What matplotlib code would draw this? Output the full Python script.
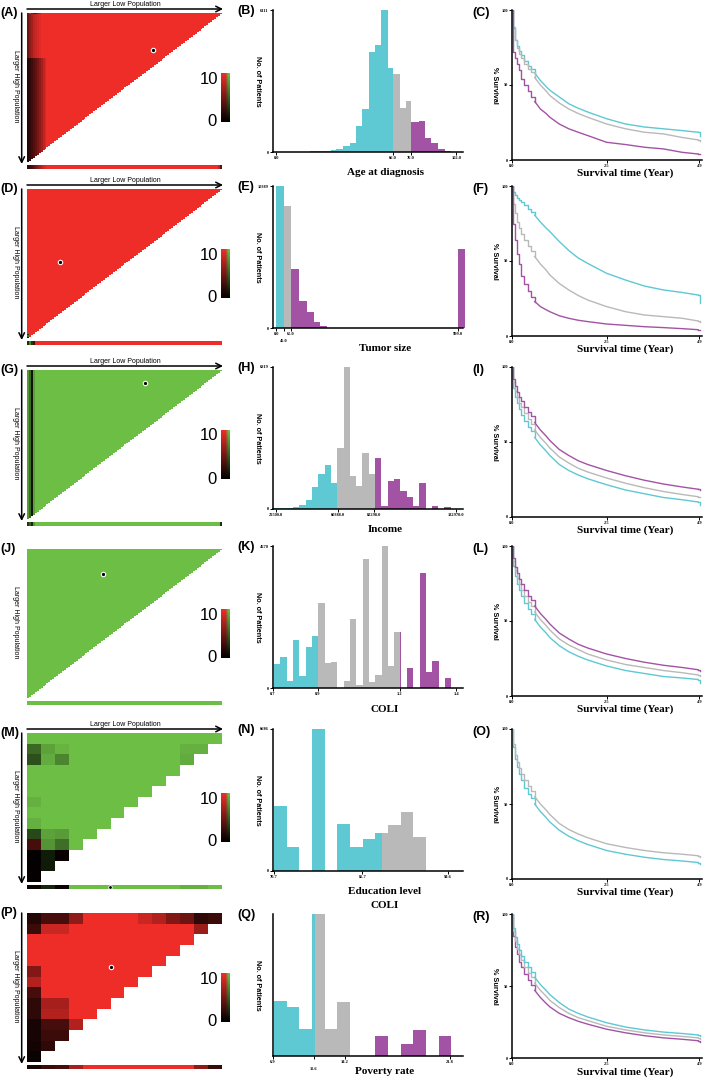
import numpy as np
import matplotlib
matplotlib.use("Agg")
import matplotlib.pyplot as plt
from matplotlib.colors import to_rgb

W, H = 709, 1079
fig = plt.figure(figsize=(W / 100, H / 100), dpi=100)

CYAN = '#5EC8D3'
GRAY = '#B9B9B9'
PURPLE = '#A353A3'
RED = '#EE2D29'
GREEN = '#6DBE45'

SANS = 'Liberation Sans'
SERIF = 'Liberation Serif'

# ---------------------------------------------------------------- data
# Histograms (bin edges, counts, cut points)
age_edges = [15, 19, 23, 27, 31, 34, 38, 41.5, 45, 48.7, 52.2, 56, 59.4, 63, 66,
             70, 73.5, 76, 80.5, 84, 87.7, 91.5, 95.3, 99]
age_counts = [20, 30, 40, 60, 90, 115, 260, 390, 1100, 1870, 4290, 4600, 6111,
              3620, 3350, 1900, 2200, 1290, 1350, 620, 390, 145, 45]
age_cuts = [66, 76]
age_ticks = [0, 66, 76, 102]
age_ticklabels = ['0.0', '66.0', '76.0', '102.0']

tumor_edges = [0, 40, 79, 123, 169, 205, 242, 279, 1001, 1039]
tumor_counts = [10389, 8936, 4286, 1962, 1187, 412, 145, 0, 5788]
tumor_cuts = [40, 79]
tumor_ticks = [0, 40, 79, 999]
tumor_ticklabels = ['0.0', '45.0', '65.0', '999.0']

income_edges = np.linspace(21200, 133430, 30)
income_counts = [32, 32, 40, 112, 208, 433, 1075, 1684, 2133, 1235, 2919, 6819,
                 1604, 1123, 2679, 1684, 2438, 160, 1363, 1444, 850, 561, 160,
                 1235, 0, 160, 0, 80, 0]
income_cuts = [59900, 83120]
income_ticks = [22500, 60388, 82298, 132970]
income_ticklabels = ['22500.0', '60388.0', '82298.0', '132970.0']

coli_edges = np.linspace(0.7038, 0.7038 + 28 * 0.02418, 29)
coli_counts = [788, 1017, 241, 1586, 383, 1346, 1696, 2790, 820, 842, 0, 230,
               2265, 109, 4234, 186, 438, 4670, 711, 1838, 0, 656, 0, 3774,
               514, 886, 0, 328]
coli_cuts = [0.8718, 1.184]
coli_ticks = [0.7, 0.8718, 1.184, 1.4]
coli_ticklabels = ['0.7', '0.9', '1.2', '1.4']

edu_edges = np.linspace(70.7, 70.7 + 12 * 2.295, 13)
edu_counts = [3067, 1148, 0, 6686, 0, 2218, 1148, 1510, 1777, 2155, 2768, 1620]
edu_cuts = [90.3, 200]
edu_ticks = [70.7, 86.7, 102.2]
edu_ticklabels = ['70.7', '86.7', '94.6']

pov_edges = np.linspace(6.98, 6.98 + 14 * 1.068, 15)
pov_counts = [2335, 2074, 1160, 5990, 1131, 2277, 0, 0, 841, 0, 508, 1117, 0, 827]
pov_cuts = [10.42, 15.33]
pov_ticks = [6.9, 10.33, 12.94, 21.8]
pov_ticklabels = ['6.9', '11.6', '14.2', '21.8']

# Survival curves (% survival at the listed years)
surv_t = [0, 0.03, 0.07, 0.12, 0.18, 0.25, 0.33, 0.42, 0.5, 0.6, 0.75, 0.9, 1.0,
          1.25, 1.5, 1.75, 2.0, 2.5, 3.0, 3.5, 4.0, 4.5, 4.92, 4.98]
c_cyan = [100, 88, 80, 76, 73, 70, 66, 63, 61, 58, 53, 49, 46.5, 42, 37.5, 34.5,
          32, 27.5, 24, 22, 20.8, 19.6, 18.5, 16]
c_gray = [100, 89, 80, 75, 71, 68, 64, 61, 59, 55, 50, 46, 43, 38, 34, 31, 28.5,
          24, 20.8, 18.5, 17.4, 15, 13.4, 13]
c_purple = [100, 72, 68, 64, 60, 54, 50, 46, 42, 39, 34, 31, 28.5, 24, 20.8, 18.5,
            16.3, 11.8, 10.3, 8.5, 7.4, 5.1, 4, 4]
f_cyan = [100, 96, 94, 92, 91, 89.6, 87.5, 85, 83, 80.5, 76, 72, 69.6, 63, 57, 52,
          48.4, 41.8, 37.3, 33.3, 30.7, 29, 27.3, 22]
f_gray = [100, 88, 82, 76, 72, 68, 64, 60, 57, 53, 48, 44, 40.7, 35, 30.7, 27, 24,
          19.6, 16.2, 14, 12.9, 11.8, 10, 9.6]
f_purple = [100, 75, 64, 55, 48, 40, 35, 30, 26, 23, 19.6, 17.5, 16.2, 13.5, 11.8,
            10.5, 9.6, 8, 7.1, 6.2, 5.6, 4.9, 4.2, 4.2]
i_purple = [100, 92, 87, 83, 80, 77, 73, 70, 67, 63, 58, 54, 51, 45, 41, 37.5, 35,
            31, 27.5, 24.5, 22, 20, 18.5, 18]
i_gray = [100, 90, 84, 80, 76, 73, 69, 65, 62, 58, 53, 49, 46, 40, 36, 32.5, 30,
          26, 22.5, 19.5, 17, 15, 13.5, 13]
i_cyan = [100, 86, 80, 76, 72, 68, 64, 60, 57, 53, 48, 44, 41, 35, 31, 28, 25.5,
          21.5, 18, 15.5, 13, 11.5, 10, 8]
l_purple = [100, 92, 86, 82, 78, 75, 71, 67, 64, 60, 55, 51, 48, 42, 38, 34.5, 32,
            28, 25, 22.5, 20.5, 19, 17.5, 17]
l_gray = [100, 90, 84, 79, 75, 71, 67, 63, 60, 56, 51, 47, 44, 38, 34, 31, 28,
          24, 21, 19, 17, 15.5, 14, 13.5]
l_cyan = [100, 87, 80, 75, 71, 67, 62, 58, 55, 51, 46, 42, 39, 33.5, 29.5, 26.5, 24,
          20, 17, 15, 13, 12, 11, 9]
o_gray = [100, 90, 83, 78, 74, 70, 66, 62, 59, 55, 50, 46, 43, 37, 33, 30, 27.5,
          23.5, 21, 19, 17.5, 16.5, 15.5, 15]
o_cyan = [100, 88, 80, 75, 70, 66, 61, 57, 54, 50, 45, 41, 38, 32.5, 28.5, 25.5, 23,
          19, 16.5, 14.5, 13, 12, 11, 10]
r_cyan = [100, 90, 84, 79, 75, 71, 67, 63, 60, 56, 51, 47, 44, 38.5, 34, 31, 28.5,
          24.5, 21.5, 19.5, 18, 17, 16, 15]
r_gray = [100, 88, 81, 76, 72, 68, 63, 59, 56, 52, 47, 43, 40, 35, 31, 28, 26,
          22, 19.5, 17.5, 16, 15, 14, 13.5]
r_purple = [100, 85, 77, 72, 67, 63, 58, 54, 51, 47, 42, 38, 35.5, 31, 28, 25.5,
            23.5, 20, 17.5, 15.5, 14, 13, 12, 11]
STEP_UNTIL = 0.6   # early part drawn as a staircase, later part as a line

# Heat maps: intensity 0..1 (0 = black, 1 = full colour); sign picks the colour:
# positive -> red scale, negative -> green scale
N_FINE = 100
a_left_profile_low = [0.15, 0.2, 0.28, 0.35, 0.42, 0.5, 0.6, 0.7, 0.8, 0.9]
a_left_profile_high = [0.45, 0.6, 0.7, 0.8, 0.85, 0.9, 0.95, 1, 1, 1]
a_top_row = [0.9, 0.6, 0.35, 0.4, 0.6, 0.8]
a_strip_left = [0.2, 0.25, 0.3, 0.4, 0.5, 0.6, 0.7, 0.8, 0.9, 0.95]
a_strip_right = [0.8, 0.4]

d_left_green = [-0.3, -0.6, -0.2]
d_strip_left = [-0.25, -0.7, -0.3, 0.3]

g_left_cols = [-0.8, -0.55, -0.12, -0.85]
g_strip_left = [-0.3, -0.5, -0.2, -0.8]
g_strip_right = [-0.25]

m_values = [
    [-1, -1, -1, -1, -1, -1, -1, -1, -1, -1, -1, -1, -1, -1],
    [-0.55, -0.85, -0.95, -1, -1, -1, -1, -1, -1, -1, -1, -0.93, -0.93],
    [-0.42, -0.9, -0.7, -1, -1, -1, -1, -1, -1, -1, -1, -0.9],
    [-1, -1, -1, -1, -1, -1, -1, -1, -1, -1, -1],
    [-1, -1, -1, -1, -1, -1, -1, -1, -1, -1],
    [-1, -1, -1, -1, -1, -1, -1, -1, -1],
    [-0.93, -1, -1, -1, -1, -1, -1, -1],
    [-1, -1, -1, -1, -1, -1, -1],
    [-0.93, -1, -1, -1, -1, -1],
    [-0.38, -0.85, -0.82, -1, -1],
    [0.3, -0.78, -0.58, -1],
    [0.02, -0.15, 0.04],
    [0.02, -0.14],
    [0.02],
]
m_strip = [0.05, -0.2, 0.05, -1, -1, -1, -1, -1, -1, -1, -1, -0.93, -0.93, -1]

p_values = [
    [0.15, 0.3, 0.3, 0.6, 1, 1, 1, 1, 0.85, 0.75, 0.55, 0.45, 0.2, 0.25],
    [0.25, 0.85, 0.85, 1, 1, 1, 1, 1, 1, 1, 1, 1, 0.65],
    [1, 1, 1, 1, 1, 1, 1, 1, 1, 1, 1, 1],
    [1, 1, 1, 1, 1, 1, 1, 1, 1, 1, 1],
    [1, 1, 1, 1, 1, 1, 1, 1, 1, 1],
    [0.55, 1, 1, 1, 1, 1, 1, 1, 1],
    [0.75, 1, 1, 1, 1, 1, 1, 1],
    [0.3, 1, 1, 1, 1, 1, 1],
    [0.2, 0.7, 0.7, 1, 1, 1],
    [0.2, 0.75, 0.75, 1, 1],
    [0.1, 0.3, 0.3, 0.75],
    [0.1, 0.25, 0.25],
    [0.08, 0.2],
    [0.05],
]
p_strip = [0.1, 0.25, 0.3, 0.7, 1, 1, 1, 1, 1, 1, 1, 1, 0.6, 0.25]

# ---------------------------------------------------------------- helpers
def box(x0, y0, x1, y1):
    return [x0 / W, 1 - y1 / H, (x1 - x0) / W, (y1 - y0) / H]


red_rgb = np.array(to_rgb(RED))
green_rgb = np.array(to_rgb(GREEN))


def to_rgba(vals, mask):
    vals = np.asarray(vals, dtype=float)
    out = np.zeros(vals.shape + (4,))
    pos = vals >= 0
    out[..., :3] = np.where(pos[..., None], np.abs(vals)[..., None] * red_rgb,
                            np.abs(vals)[..., None] * green_rgb)
    out[..., 3] = mask
    return out


def ragged_to_square(rows):
    n = len(rows)
    arr = np.zeros((n, n))
    for i, r in enumerate(rows):
        arr[i, :len(r)] = r
    return arr


def draw_heat(top, vals, strip, dot, dot_on_strip=False):
    n = vals.shape[0]
    mask = np.flipud(np.tri(n))
    ax = fig.add_axes(box(27, top, 222, top + 149))
    ax.imshow(to_rgba(vals, mask), extent=(0, n, n, 0), aspect='auto',
              interpolation='nearest')
    ax.set_xlim(0, n)
    ax.set_ylim(n, 0)
    ax.axis('off')
    sax = fig.add_axes(box(27, top + 152, 222, top + 156))
    strip = np.asarray(strip, dtype=float)[None, :]
    sax.imshow(to_rgba(strip, np.ones_like(strip)), extent=(0, strip.shape[1], 1, 0),
               aspect='auto', interpolation='nearest')
    sax.axis('off')
    if dot is not None:
        if dot_on_strip:
            sax.scatter([dot[0] * strip.shape[1]], [0.5], s=7, c='black',
                        edgecolors='white', linewidths=0.6, zorder=5, clip_on=False)
        else:
            ax.scatter([dot[0] * n], [dot[1] * n], s=10, c='black',
                       edgecolors='white', linewidths=0.8, zorder=5)
    # colour bar
    cax = fig.add_axes(box(221, top + 60, 230, top + 109))
    g = np.linspace(1, 0, 50)
    cb = np.zeros((50, 3, 3))
    cb[:, 0, :] = g[:, None] * red_rgb
    cb[:, 1, :] = g[:, None] * red_rgb
    cb[:, 2, :] = g[:, None] * green_rgb
    cax.imshow(cb, aspect='auto', interpolation='bilinear')
    cax.axis('off')
    return ax


def style_axes(ax):
    for s in ['top', 'right']:
        ax.spines[s].set_visible(False)
    for s in ['left', 'bottom']:
        ax.spines[s].set_linewidth(1.1)
    ax.tick_params(axis='both', length=2, width=0.7, pad=1,
                   labelsize=3.2)
    for lab in ax.get_xticklabels() + ax.get_yticklabels():
        lab.set_fontfamily(SERIF)
        lab.set_fontweight('bold')


def xlabel_y(top):
    return min(top + 163, 1072)


def draw_hist(top, edges, counts, cuts, xlim, ticks, ticklabels, ymax_label,
              xlabel, low_ticks=()):
    ax = fig.add_axes(box(273, top, 463, top + 142))
    cols = [CYAN, GRAY, PURPLE]
    bounds = [-np.inf, cuts[0], cuts[1], np.inf]
    for l, r, c in zip(edges[:-1], edges[1:], counts):
        if c <= 0:
            continue
        for k in range(3):
            a = max(l, bounds[k])
            b = min(r, bounds[k + 1])
            if b > a:
                ax.bar(a, c, width=b - a, align='edge', color=cols[k],
                       linewidth=0, clip_on=False)
    ax.set_xlim(*xlim)
    ymax = max(counts)
    ax.set_ylim(0, ymax)
    ax.set_xticks(ticks)
    ax.set_xticklabels(ticklabels)
    if ymax_label is not None:
        ax.set_yticks([0, ymax])
        ax.set_yticklabels(['0', ymax_label])
    else:
        ax.set_yticks([])
    style_axes(ax)
    for i, lab in enumerate(ax.get_xticklabels()):
        if i in low_ticks:
            lab.set_y(-0.05)
    ax.text(-0.08, 0.5, 'No. of Patients', transform=ax.transAxes,
            rotation=-90, ha='center', va='center', fontsize=5.2,
            fontweight='bold', family=SANS)
    fig.text(385 / W, 1 - xlabel_y(top) / H, xlabel, ha='center', va='center',
             fontsize=8, fontweight='bold', family=SERIF)
    return ax


def draw_surv(top, curves):
    bottom = min(top + 150, 1058)
    ax = fig.add_axes(box(512, top, 702, bottom))
    t = np.asarray(surv_t)
    k = int(np.searchsorted(t, STEP_UNTIL, side='right'))
    for vals, col in curves:
        v = np.asarray(vals, dtype=float)
        ax.plot(t[:k], v[:k], drawstyle='steps-post', color=col, lw=1.0)
        ax.plot(t[k - 1:-1], v[k - 1:-1], color=col, lw=1.0)
        ax.plot(t[-2:], v[-2:], drawstyle='steps-post', color=col, lw=1.0)
    ax.set_xlim(0, 5.02)
    ax.set_ylim(0, 100)
    ax.set_xticks([0, 2.5, 4.95])
    ax.set_xticklabels(['0.0', '2.5', '4.9'])
    ax.set_yticks([0, 50, 100])
    style_axes(ax)
    ax.text(-0.09, 0.5, '% Survival', transform=ax.transAxes, rotation=-90,
            ha='center', va='center', fontsize=5.2, fontweight='bold', family=SANS)
    fig.text(625 / W, 1 - xlabel_y(top) / H, 'Survival time (Year)', ha='center',
             va='center', fontsize=8, fontweight='bold', family=SERIF)
    return ax


# ---------------------------------------------------------------- heat maps
a_heat = np.ones((N_FINE, N_FINE))
a_heat[30:, :len(a_left_profile_low)] = a_left_profile_low
a_heat[:30, :len(a_left_profile_high)] = a_left_profile_high
a_heat[0, 1:1 + len(a_top_row)] = a_top_row
a_strip = np.ones(N_FINE)
a_strip[:len(a_strip_left)] = a_strip_left
a_strip[-len(a_strip_right):] = a_strip_right

d_heat = np.ones((N_FINE, N_FINE))
d_heat[-len(d_left_green):, 0] = d_left_green
d_strip = np.ones(N_FINE)
d_strip[:len(d_strip_left)] = d_strip_left

g_heat = -np.ones((N_FINE, N_FINE))
g_heat[:, :len(g_left_cols)] = g_left_cols
g_strip = -np.ones(N_FINE)
g_strip[:len(g_strip_left)] = g_strip_left
g_strip[-len(g_strip_right):] = g_strip_right

j_heat = -np.ones((N_FINE, N_FINE))
j_strip = -np.ones(N_FINE)

rows_top = [10, 186, 367, 546, 729, 914]
heat_tops = [13, 189, 370, 549, 733, 913]

draw_heat(heat_tops[0], a_heat, a_strip, (0.645, 0.25))
draw_heat(heat_tops[1], d_heat, d_strip, (0.17, 0.49))
draw_heat(heat_tops[2], g_heat, g_strip, (0.607, 0.085))
draw_heat(heat_tops[3], j_heat, j_strip, (0.39, 0.17))
draw_heat(heat_tops[4], ragged_to_square(m_values), m_strip, (0.425, 0.5),
          dot_on_strip=True)
draw_heat(heat_tops[5], ragged_to_square(p_values), p_strip, (0.43, 0.36))

# ---------------------------------------------------------------- histograms
draw_hist(rows_top[0], age_edges, age_counts, age_cuts, (-1.9, 105.7),
          age_ticks, age_ticklabels, '6111', 'Age at diagnosis')
draw_hist(rows_top[1], tumor_edges, tumor_counts, tumor_cuts, (-18.3, 1026.6),
          tumor_ticks, tumor_ticklabels, '10389', 'Tumor size', low_ticks=(1,))
draw_hist(rows_top[2], income_edges, income_counts, income_cuts, (20454, 137076),
          income_ticks, income_ticklabels, '6819', 'Income')
draw_hist(rows_top[3], coli_edges, coli_counts, coli_cuts, (0.7, 1.4255),
          coli_ticks, coli_ticklabels, '4670', 'COLI')
draw_hist(rows_top[4], edu_edges, edu_counts, edu_cuts, (70.52, 104.94),
          edu_ticks, edu_ticklabels, '6686', 'Education level')
draw_hist(rows_top[5], pov_edges, pov_counts, pov_cuts, (6.9, 22.92),
          pov_ticks, pov_ticklabels, None, 'Poverty rate', low_ticks=(1,))

# ---------------------------------------------------------------- survival
draw_surv(rows_top[0], [(c_cyan, CYAN), (c_gray, GRAY), (c_purple, PURPLE)])
draw_surv(rows_top[1], [(f_cyan, CYAN), (f_gray, GRAY), (f_purple, PURPLE)])
draw_surv(rows_top[2], [(i_cyan, CYAN), (i_gray, GRAY), (i_purple, PURPLE)])
draw_surv(rows_top[3], [(l_cyan, CYAN), (l_gray, GRAY), (l_purple, PURPLE)])
draw_surv(rows_top[4], [(o_cyan, CYAN), (o_gray, GRAY)])
draw_surv(rows_top[5], [(r_purple, PURPLE), (r_gray, GRAY), (r_cyan, CYAN)])

# ---------------------------------------------------------------- overlay
ov = fig.add_axes([0, 0, 1, 1])
ov.set_xlim(0, W)
ov.set_ylim(H, 0)
ov.axis('off')
ov.patch.set_alpha(0)

panel_letters = [('(A)', '(B)', '(C)'), ('(D)', '(E)', '(F)'), ('(G)', '(H)', '(I)'),
                 ('(J)', '(K)', '(L)'), ('(M)', '(N)', '(O)'), ('(P)', '(Q)', '(R)')]
show_top_arrow = [True, True, True, False, True, False]
show_left_arrow = [True, True, True, False, True, True]

for k, top in enumerate(heat_tops):
    l1, l2, l3 = panel_letters[k]
    ov.text(0, top, l1, ha='left', va='center', fontsize=9, fontweight='bold',
            family=SANS)
    ov.text(237, rows_top[k] + 1, l2, ha='left', va='center', fontsize=9,
            fontweight='bold', family=SANS)
    ov.text(472, rows_top[k] + 3, l3, ha='left', va='center', fontsize=9,
            fontweight='bold', family=SANS)
    if show_top_arrow[k]:
        ov.annotate('', xy=(223, top - 4), xytext=(27, top - 4),
                    arrowprops=dict(arrowstyle='->', lw=1.1, color='black',
                                    shrinkA=0, shrinkB=0))
        ov.text(125, top - 8.5, 'Larger Low Population', ha='center', va='center',
                fontsize=5, family=SANS)
    if show_left_arrow[k]:
        ov.annotate('', xy=(21.7, top + 151), xytext=(21.7, top),
                    arrowprops=dict(arrowstyle='->', lw=1.1, color='black',
                                    shrinkA=0, shrinkB=0))
    ov.text(15, top + 73, 'Larger High Population', ha='center', va='center',
            rotation=-90, fontsize=5, family=SANS)
    ov.text(209, top + 66, '10', ha='center', va='center', fontsize=12, family=SANS)
    ov.text(212, top + 109, '0', ha='center', va='center', fontsize=12, family=SANS)

ov.text(385, 905, 'COLI', ha='center', va='center', fontsize=8, fontweight='bold',
        family=SERIF)

fig.savefig('out.png', dpi=100)
